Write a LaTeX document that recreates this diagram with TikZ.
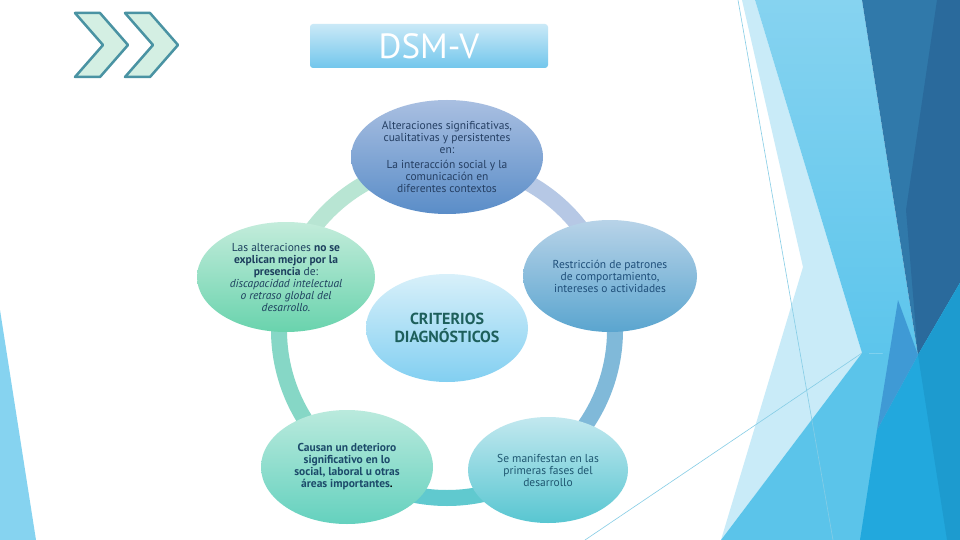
\documentclass[tikz,border=0pt]{standalone}
\usepackage{fontspec}
\setmainfont{PT Sans}
\usetikzlibrary{shapes.geometric}
\definecolor{paleblue}{HTML}{C9EBF8}
\definecolor{skyA}{HTML}{86D3F0}
\definecolor{skyB}{HTML}{5CC5EC}
\definecolor{navyA}{HTML}{3079AA}
\definecolor{navyB}{HTML}{2A6A9C}
\definecolor{seaA}{HTML}{5BC4EA}
\definecolor{seaB}{HTML}{22A8DD}
\definecolor{seaC}{HTML}{1D9BCF}
\definecolor{seaD}{HTML}{3F9AD5}
\definecolor{hairline}{HTML}{86CDE6}
\definecolor{ringmint}{HTML}{B8E5D3}
\definecolor{ringlav}{HTML}{B6C8E5}
\definecolor{ringsteel}{HTML}{80B9D9}
\definecolor{ringteal}{HTML}{60C9CF}
\definecolor{ringaqua}{HTML}{86D7C6}
\definecolor{chevfill}{HTML}{D4EFE3}
\definecolor{chevline}{HTML}{4A93A3}
\definecolor{socialA}{HTML}{A9BFE1}
\definecolor{socialB}{HTML}{5A8DC8}
\definecolor{socialT}{HTML}{253F63}
\definecolor{patronA}{HTML}{B8D3E8}
\definecolor{patronB}{HTML}{5AA5CF}
\definecolor{patronT}{HTML}{1F4F7A}
\definecolor{fasesA}{HTML}{C2E8EF}
\definecolor{fasesB}{HTML}{58C6D1}
\definecolor{fasesT}{HTML}{1E5670}
\definecolor{deterA}{HTML}{BAEADD}
\definecolor{deterB}{HTML}{64D1BE}
\definecolor{deterT}{HTML}{1C4A6A}
\definecolor{explA}{HTML}{C3ECDB}
\definecolor{explB}{HTML}{69D3AD}
\definecolor{explT}{HTML}{1D3F5E}
\definecolor{critA}{HTML}{D8F0FA}
\definecolor{critB}{HTML}{82CFF1}
\definecolor{critT}{HTML}{1D5F5B}
\definecolor{titleA}{HTML}{CAE9F7}
\definecolor{titleB}{HTML}{72C6EC}
\begin{document}
\begin{tikzpicture}[x=1pt,y=-1pt,
  bubble/.style={ellipse,inner sep=0pt,align=center,font=\fontsize{11.5}{12}\selectfont},
  ringpart/.style={line width=16pt},
  chevron/.style={fill=chevfill,draw=chevline,line width=2.5pt,line join=round}]
\useasboundingbox (0,0) rectangle (960,540);
\fill[white] (0,0) rectangle (960,540);
\fill[skyA] (0,310) -- (36,540) -- (0,540) -- cycle;
\fill[paleblue] (742,0) -- (755,0) -- (862,353) -- (721,540) -- (803,267) -- cycle;
\shade[top color=skyA,bottom color=skyB] (755,0) -- (862,0) -- (918,355) -- (862,353) -- cycle;
\fill[navyA] (862,0) -- (960,0) -- (960,283) -- (918,355) -- cycle;
\fill[navyB] (937,0) -- (960,0) -- (960,283) -- (918,355) -- (906,210) -- cycle;
\fill[seaA] (721,540) -- (862,353) -- (918,355) -- (960,283) -- (960,540) -- cycle;
\fill[seaB] (860,540) -- (877,430) -- (918,355) -- (960,283) -- (960,540) -- cycle;
\fill[seaC] (947,540) -- (918,355) -- (960,283) -- (960,540) -- cycle;
\fill[seaD] (898,300) -- (918,355) -- (877,430) -- cycle;
\draw[hairline,line width=0.6pt] (738,0) -- (833,540);
\draw[hairline,line width=0.6pt] (585,540) -- (862,353);

\coordinate (hub) at (447,330);
\draw[ringpart,ringmint] (hub) ++(198:168) arc[start angle=198,end angle=270,radius=168];
\draw[ringpart,ringlav] (hub) ++(270:168) arc[start angle=270,end angle=342,radius=168];
\draw[ringpart,ringsteel] (hub) ++(-18:168) arc[start angle=-18,end angle=54,radius=168];
\draw[ringpart,ringteal] (hub) ++(54:168) arc[start angle=54,end angle=126,radius=168];
\draw[ringpart,ringaqua] (hub) ++(126:168) arc[start angle=126,end angle=198,radius=168];

\node[bubble,minimum width=192pt,minimum height=114pt,top color=socialA,bottom color=socialB,text=socialT] (social) at (447,157)
  {Alteraciones significativas,\\cualitativas y persistentes\\en:\\[3pt]La interacción social y la\\comunicación en\\diferentes contextos};
\node[bubble,minimum width=174pt,minimum height=112pt,top color=patronA,bottom color=patronB,text=patronT] (patrones) at (610,276)
  {Restricción de patrones\\de comportamiento,\\intereses o actividades};
\node[bubble,minimum width=160pt,minimum height=106pt,top color=fasesA,bottom color=fasesB,text=fasesT] (fases) at (548,470)
  {Se manifestan en las\\primeras fases del\\desarrollo};
\node[bubble,minimum width=172pt,minimum height=114pt,top color=deterA,bottom color=deterB,text=deterT] (deterioro) at (347,467)
  {\bfseries Causan un deterioro\\\bfseries significativo en lo\\\bfseries social, laboral u otras\\\bfseries áreas importantes\textcolor{black}{.}};
\node[bubble,minimum width=178pt,minimum height=110pt,top color=explA,bottom color=explB,text=explT] (explican) at (286,277)
  {Las alteraciones \textbf{no se}\\\textbf{explican mejor por la}\\\textbf{presencia} de:\\\textit{discapacidad intelectual}\\\textit{o retraso global del}\\\textit{desarrollo.}};
\node[bubble,minimum width=162pt,minimum height=108pt,top color=critA,bottom color=critB,text=critT,font=\fontsize{16}{18}\selectfont\bfseries] (criterios) at (447,328)
  {CRITERIOS\\DIAGNÓSTICOS};

\node[rounded corners=3pt,minimum width=238pt,minimum height=44pt,top color=titleA,bottom color=titleB,text=white,font=\fontsize{35}{35}\selectfont] (title) at (429,46) {DSM-V};

\draw[chevron] (75,13) -- (100,13) -- (128,45) -- (100,77) -- (75,77) -- (103,45) -- cycle;
\draw[chevron] (125,13) -- (150,13) -- (178,45) -- (150,77) -- (125,77) -- (153,45) -- cycle;
\end{tikzpicture}
\end{document}
